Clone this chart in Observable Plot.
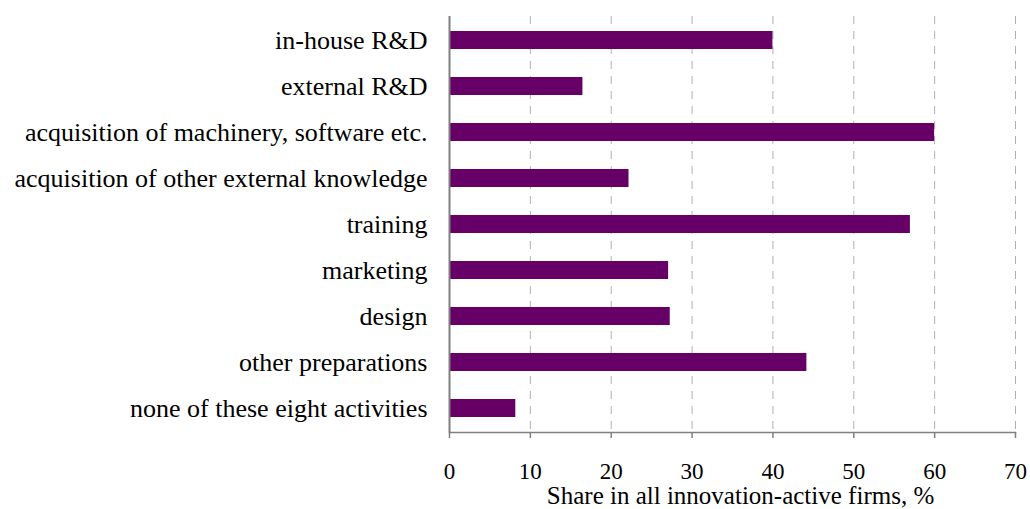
<!DOCTYPE html>
<html>
<head>
<meta charset="utf-8">
<script src="https://cdn.jsdelivr.net/npm/d3@7"></script>
<script src="https://cdn.jsdelivr.net/npm/@observablehq/plot@0.6"></script>
<style>
  html, body { margin: 0; padding: 0; background: #ffffff; }
  #chart svg { display: block; }
</style>
</head>
<body>
<div id="chart"></div>
<script>
const categories = [
  "in-house R&D",
  "external R&D",
  "acquisition of machinery, software etc.",
  "acquisition of other external knowledge",
  "training",
  "marketing",
  "design",
  "other preparations",
  "none of these eight activities"
];
const values = [40, 16.5, 60, 22.2, 57, 27.1, 27.3, 44.2, 8.2];
const xTicks = [0, 10, 20, 30, 40, 50, 60, 70];
const xTitle = "Share in all innovation-active firms, %";

const data = categories.map((c, i) => ({category: c, value: values[i]}));

const chart = Plot.plot({
  width: 1030,
  height: 509,
  marginLeft: 449,
  marginRight: 15,
  marginTop: 16,
  marginBottom: 77,
  style: {fontFamily: "'Liberation Serif', 'Times New Roman', serif", fontSize: "25px", color: "#000", background: "#fff"},
  x: {domain: [0, 70]},
  y: {domain: categories, paddingInner: 0.61, paddingOuter: 0.305},
  marks: [
    Plot.gridX(xTicks.slice(1), {stroke: "#b0b0b0", strokeOpacity: 1, strokeWidth: 1, strokeDasharray: "8,7"}),
    Plot.barX(data, {x: "value", y: "category", fill: "#660066"}),
    Plot.axisX(xTicks, {tickSize: 6, tickPadding: 24, fontSize: 23, stroke: "#808080", strokeWidth: 1.5, label: null, tickFormat: d => String(d)}),
    Plot.axisY({tickSize: 0, tickPadding: 22, fontSize: 26, label: null}),
    Plot.frame({anchor: "bottom", stroke: "#808080", strokeWidth: 1.5}),
    Plot.ruleX([0], {stroke: "#808080", strokeWidth: 2}),
    Plot.text([xTitle], {frameAnchor: "bottom", dy: 71, dx: 8, fontSize: 25, textAnchor: "middle", fill: "#000"})
  ]
});
document.getElementById("chart").appendChild(chart);
</script>
</body>
</html>
